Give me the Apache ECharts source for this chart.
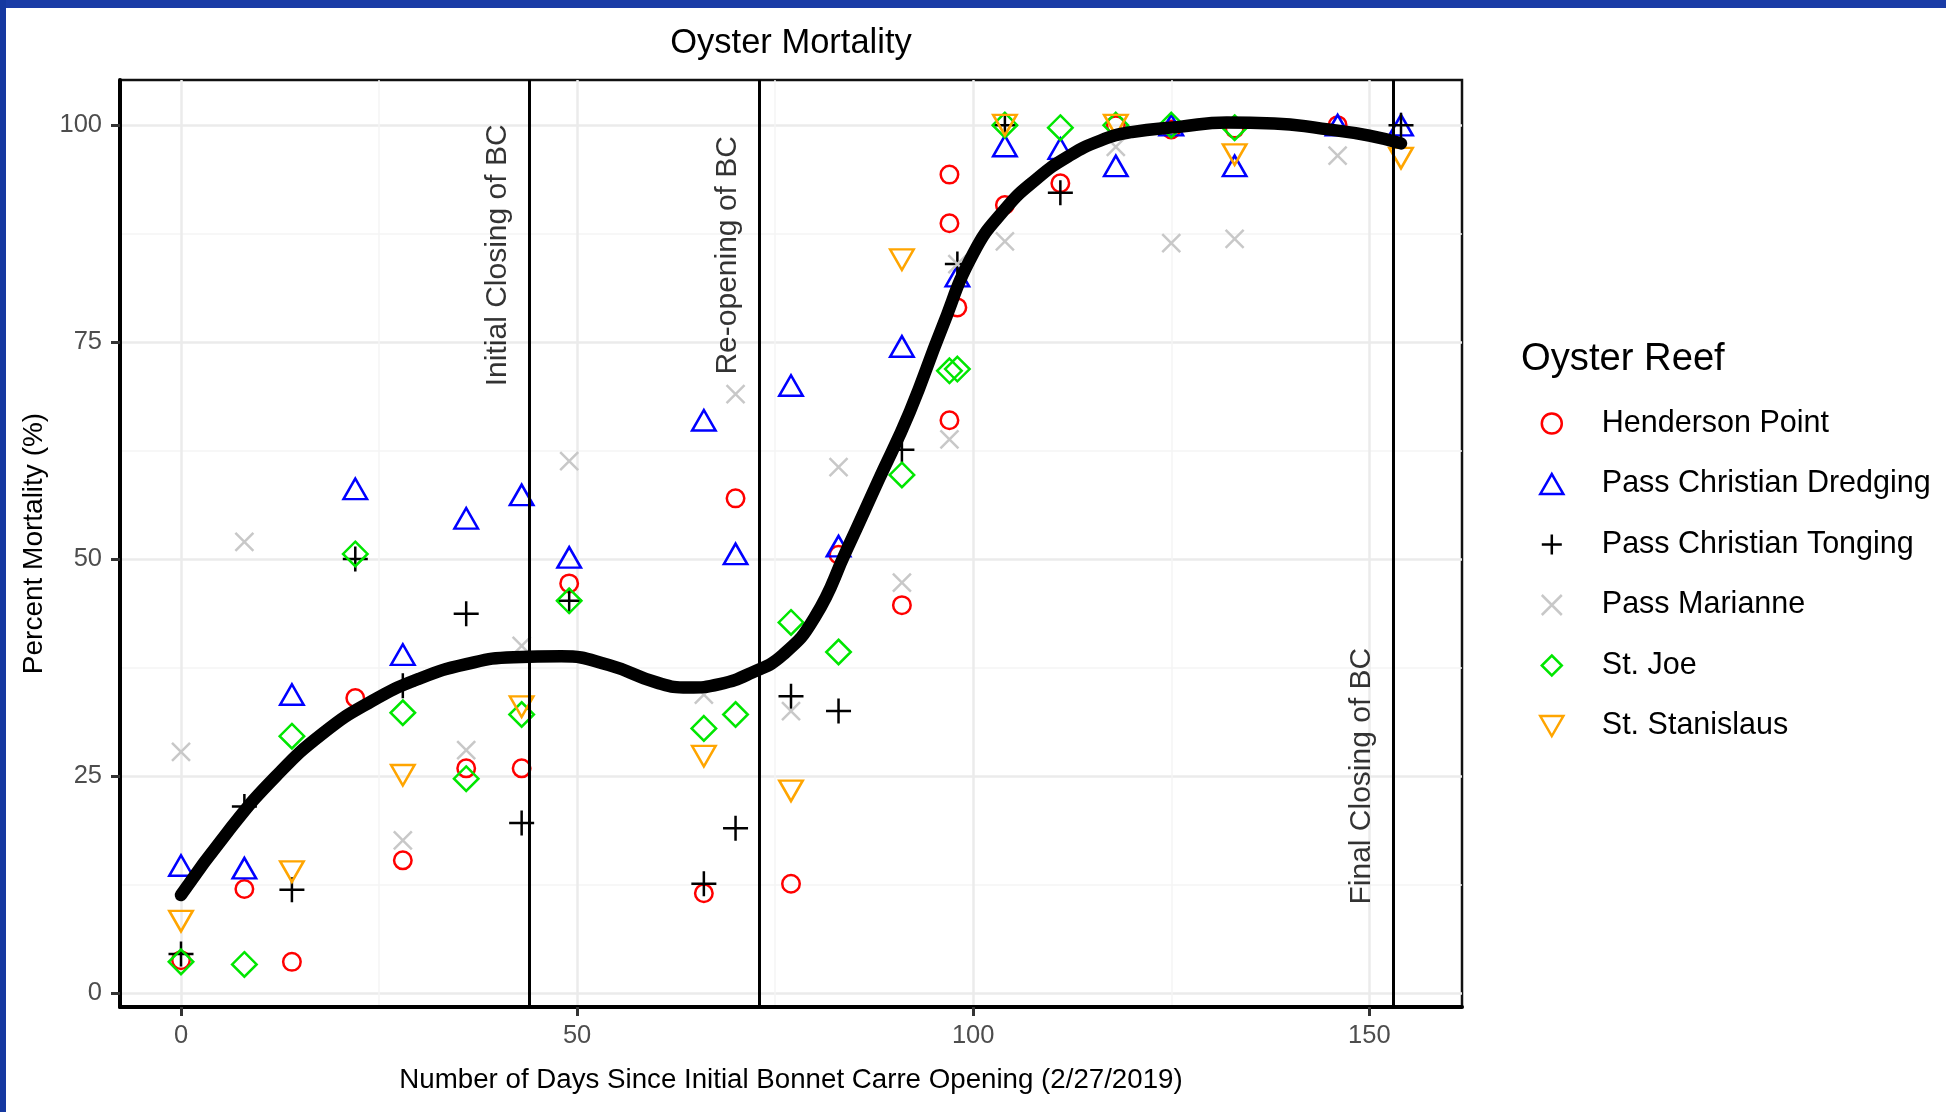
<!DOCTYPE html>
<html>
<head>
<meta charset="utf-8">
<script src="https://cdn.jsdelivr.net/npm/echarts@6/dist/echarts.min.js"></script>
<style>
  html, body { margin: 0; padding: 0; background: #ffffff; }
  #main { width: 1946px; height: 1112px; }
</style>
</head>
<body>
<div id="main"></div>
<script>
// ---------------- data ----------------
const reefNames = ['Henderson Point', 'Pass Christian Dredging', 'Pass Christian Tonging', 'Pass Marianne', 'St. Joe', 'St. Stanislaus'];

const hendersonDays = [0, 8, 14, 22, 28, 36, 43, 49, 66, 70, 77, 83, 91, 97, 97, 97, 98, 104, 111, 118, 125, 133, 146];
const hendersonPct  = [3.8, 12, 3.6, 34, 15.3, 25.9, 25.9, 47.2, 11.5, 57, 12.6, 50.5, 44.7, 94.3, 88.7, 66, 79, 90.8, 93.3, 100, 99.5, 99.6, 100];

const dredgingDays = [0, 8, 14, 22, 28, 36, 43, 49, 66, 70, 77, 83, 91, 98, 104, 111, 118, 125, 133, 146, 154];
const dredgingPct  = [14.7, 14.4, 34.4, 58.1, 39, 54.7, 57.4, 50.2, 66, 50.6, 70, 51.5, 74.5, 82.6, 97.6, 97.3, 95.3, 100, 95.3, 100, 100];

const tongingDays = [0, 8, 14, 22, 28, 36, 43, 49, 66, 70, 77, 83, 91, 98, 104, 111, 154];
const tongingPct  = [4.5, 21.5, 11.9, 50, 35.4, 43.7, 19.6, 45.2, 12.6, 19, 34.2, 32.5, 62.6, 84, 100, 92.2, 100];

const marianneDays = [0, 8, 28, 36, 43, 49, 66, 70, 77, 83, 91, 97, 98, 104, 118, 125, 133, 146];
const mariannePct  = [27.8, 52, 17.6, 28, 40, 61.3, 34.4, 69, 32.5, 60.6, 47.3, 63.8, 84, 86.6, 97.5, 86.4, 86.9, 96.5];

const joeDays = [0, 8, 14, 22, 28, 36, 43, 49, 66, 70, 77, 83, 91, 97, 98, 104, 111, 118, 125, 133];
const joePct  = [3.6, 3.3, 29.6, 50.6, 32.3, 24.7, 32.1, 45.2, 30.5, 32.1, 42.7, 39.3, 59.7, 71.7, 71.9, 100, 99.7, 100, 100, 99.7];

const stanDays = [0, 14, 28, 43, 66, 77, 91, 104, 118, 133, 154];
const stanPct  = [8.3, 14, 25.1, 33, 27.3, 23.3, 84.5, 100, 100, 96.6, 96.2];

// smoothed trend line
const smoothDays = [0, 6, 12, 18, 24, 30, 36, 42, 48, 54, 60, 64, 68, 72, 76, 80, 84, 88, 92, 96, 100, 104, 108, 112, 116, 120, 126, 132, 138, 144, 150, 154];
const smoothPct  = [11.3, 18.7, 25, 30, 33.6, 36.2, 37.9, 38.7, 38.8, 37.8, 35.8, 35.2, 35.6, 36.9, 39, 43.3, 51, 59, 67, 76.5, 85.2, 90.3, 93.8, 96.4, 98.2, 99.2, 99.8, 100.3, 100.2, 99.6, 98.8, 97.9];

const eventDays = [44, 73, 153];
const eventNames = ['Initial Closing of BC', 'Re-opening of BC', 'Final Closing of BC'];
const eventLabelDays = [40, 69, 149];
const eventLabelPct = [85, 85, 25];

const xTicks = [0, 50, 100, 150];
const xMinorTicks = [25, 75, 125];
const yTicks = [0, 25, 50, 75, 100];
const yMinorTicks = [12.5, 37.5, 62.5, 87.5];

// ---------------- styling ----------------
const FONT = '"Liberation Sans", Arial, Helvetica, sans-serif';
const reefColors = ['#ff0000', '#0000ff', '#000000', '#c8c8c8', '#00e600', '#ffa500'];
const reefSymbols = [
  'circle',
  'path://M0,17.32 L10,0 L20,17.32 Z',
  'path://M10,0 L10,20 M0,10 L20,10',
  'path://M0,0 L20,20 M20,0 L0,20',
  'path://M10,0 L20,10 L10,20 L0,10 Z',
  'path://M0,0 L20,0 L10,17.32 Z'
];
const reefSizes = [17.5, [23.5, 20.5], [25, 25], [18, 18], [24.5, 24.5], [23.5, 20.5]];

const zip = (a, b) => a.map((v, i) => [v, b[i]]);
const reefData = [
  zip(hendersonDays, hendersonPct),
  zip(dredgingDays, dredgingPct),
  zip(tongingDays, tongingPct),
  zip(marianneDays, mariannePct),
  zip(joeDays, joePct),
  zip(stanDays, stanPct)
];

const X_MIN = -7.7, X_MAX = 161.7, Y_MIN = -1.6, Y_MAX = 105.2;
const GRID = { left: 120, top: 80, width: 1342, height: 927 };

const reefSeries = reefNames.map((name, i) => ({
  type: 'scatter',
  name: name,
  data: reefData[i],
  symbol: reefSymbols[i],
  symbolSize: reefSizes[i],
  itemStyle: { color: 'rgba(0,0,0,0)', borderColor: reefColors[i], borderWidth: 2.5, opacity: 1 },
  z: 3,
  silent: true
}));

const option = {
  animation: false,
  backgroundColor: '#ffffff',
  textStyle: { fontFamily: FONT },
  grid: {
    left: GRID.left, top: GRID.top, width: GRID.width, height: GRID.height,
    show: true, borderColor: '#111', borderWidth: 2.5, backgroundColor: '#ffffff',
    containLabel: false
  },
  legend: {
    orient: 'vertical',
    left: 1534, top: 403,
    itemWidth: 90, itemHeight: 20, itemGap: 29.5,
    symbolKeepAspect: true,
    selectedMode: false,
    data: reefNames,
    itemStyle: { borderWidth: 2.5 },
    textStyle: { fontSize: 30.5, color: '#000', fontFamily: FONT, lineHeight: 30 }
  },
  xAxis: [
    {
      type: 'value', min: X_MIN, max: X_MAX, position: 'bottom',
      name: 'Number of Days Since Initial Bonnet Carre Opening (2/27/2019)',
      nameLocation: 'middle', nameGap: 59,
      nameTextStyle: { fontSize: 27.7, color: '#000', fontFamily: FONT },
      axisLine: { show: true, onZero: false, lineStyle: { color: '#000', width: 4 } },
      axisTick: { show: true, length: 9, customValues: xTicks, lineStyle: { color: '#333', width: 3 } },
      axisLabel: { show: true, customValues: xTicks, fontSize: 25.5, color: '#4d4d4d', margin: 16, fontFamily: FONT },
      splitLine: { show: true, lineStyle: { color: '#ebebeb', width: 2.5 } }
    },
    {
      type: 'value', min: X_MIN, max: X_MAX, position: 'top',
      axisLine: { show: false },
      axisTick: { show: false, customValues: xMinorTicks },
      axisLabel: { show: false, customValues: xMinorTicks },
      splitLine: { show: true, lineStyle: { color: '#f4f4f4', width: 1.5 } }
    }
  ],
  yAxis: [
    {
      type: 'value', min: Y_MIN, max: Y_MAX, position: 'left',
      name: 'Percent Mortality (%)',
      nameLocation: 'middle', nameGap: 71,
      nameTextStyle: { fontSize: 28, color: '#000', fontFamily: FONT },
      axisLine: { show: true, onZero: false, lineStyle: { color: '#000', width: 4 } },
      axisTick: { show: true, length: 9, customValues: yTicks, lineStyle: { color: '#333', width: 3 } },
      axisLabel: { show: true, customValues: yTicks, fontSize: 25.5, color: '#4d4d4d', margin: 18, fontFamily: FONT },
      splitLine: { show: true, lineStyle: { color: '#ebebeb', width: 2.5 } }
    },
    {
      type: 'value', min: Y_MIN, max: Y_MAX, position: 'right',
      axisLine: { show: false },
      axisTick: { show: false, customValues: yMinorTicks },
      axisLabel: { show: false, customValues: yMinorTicks },
      splitLine: { show: true, lineStyle: { color: '#f4f4f4', width: 1.5 } }
    }
  ],
  series: reefSeries.concat([
    {
      type: 'line',
      name: 'Smooth',
      data: zip(smoothDays, smoothPct),
      smooth: 0.5,
      showSymbol: false,
      symbol: 'none',
      lineStyle: { color: '#000', width: 12.5, cap: 'round', join: 'round' },
      z: 5,
      silent: true
    },
    {
      type: 'scatter',
      name: 'Events',
      data: zip(eventLabelDays, eventLabelPct),
      symbolSize: 1,
      itemStyle: { color: 'rgba(0,0,0,0)' },
      label: {
        show: true,
        position: 'inside',
        rotate: 90,
        formatter: (p) => eventNames[p.dataIndex],
        fontSize: 30,
        color: '#000',
        fontFamily: FONT
      },
      markLine: {
        silent: true,
        symbol: ['none', 'none'],
        label: { show: false },
        lineStyle: { color: '#000', width: 3, type: 'solid' },
        data: eventDays.map(d => ({ xAxis: d }))
      },
      z: 4,
      silent: true
    }
  ]),
  graphic: [
    {
      type: 'text', x: GRID.left + GRID.width / 2, y: 43,
      style: { text: 'Oyster Mortality', fontSize: 34.5, fontFamily: FONT, fill: '#000', align: 'center', verticalAlign: 'middle' }
    },
    {
      type: 'text', x: 1521, y: 359,
      style: { text: 'Oyster Reef', fontSize: 38.2, fontFamily: FONT, fill: '#000', align: 'left', verticalAlign: 'middle' }
    },
    { type: 'rect', shape: { x: 0, y: 0, width: 1946, height: 8 }, style: { fill: '#1a3ca6' }, z: 100 },
    { type: 'rect', shape: { x: 0, y: 0, width: 6, height: 1112 }, style: { fill: '#1538a0' }, z: 100 }
  ]
};

const chart = echarts.init(document.getElementById('main'), null, { renderer: 'canvas' });
chart.setOption(option);
</script>
</body>
</html>
